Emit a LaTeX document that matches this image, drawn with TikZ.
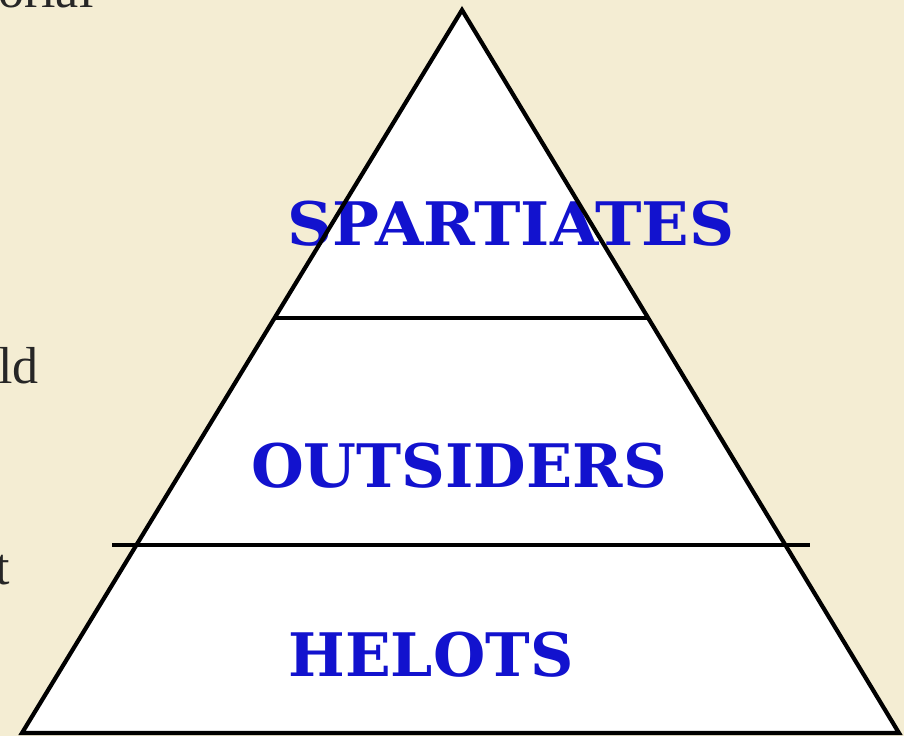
\documentclass[tikz,border=0pt]{standalone}
\usepackage{fontspec}
\newfontfamily\labelfont{DejaVu Serif}
\newfontfamily\bgfont{Liberation Serif}
\definecolor{parch}{RGB}{244,237,211}
\definecolor{tierblue}{RGB}{18,18,206}
\begin{document}
\begin{tikzpicture}[x=1pt,y=-1pt,
  tier/.style={font=\labelfont\bfseries\fontsize{60}{60}\selectfont, text=tierblue, inner sep=0pt, anchor=base},
  frag/.style={font=\bgfont\fontsize{52}{52}\selectfont, text=black!85, inner sep=0pt},
  edge/.style={line width=4.2pt, line join=miter, draw=black}]
\useasboundingbox (0,0) rectangle (904,736);
\fill[parch] (0,0) rectangle (904,736);
\begin{scope}
\clip (0,0) rectangle (904,736);
\coordinate (apex) at (462,10);
\coordinate (bl) at (22,733);
\coordinate (br) at (899,733);
\coordinate (l1a) at (274.6,318);
\coordinate (l1b) at (648,318);
\coordinate (l2a) at (112,545);
\coordinate (l2b) at (810,545);
\fill[white] (apex) -- (bl) -- (br) -- cycle;
\node[frag, anchor=base west] (f1) at (-2,7) {orial};
\node[frag, anchor=base west] (f2) at (-2,383) {ld};
\node[frag, anchor=base west] (f3) at (-5,584) {t};
\node[tier, xscale=1.04] (spart) at (511,245) {SPARTIATES};
\node[tier, xscale=1.01] (outs) at (459,487) {OUTSIDERS};
\node[tier] (helots) at (431,676) {HELOTS};
\draw[edge] (apex) -- (bl) -- (br) -- cycle;
\draw[edge] (l1a) -- (l1b);
\draw[edge] (l2a) -- (l2b);
\end{scope}
\end{tikzpicture}
\end{document}
